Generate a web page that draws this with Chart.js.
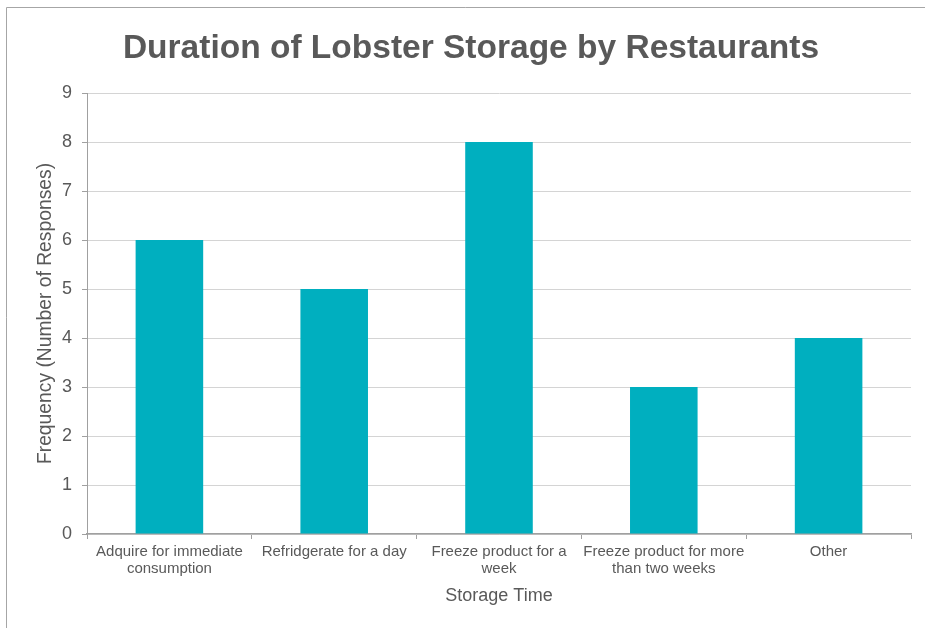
<!DOCTYPE html>
<html>
<head>
<meta charset="utf-8">
<title>Duration of Lobster Storage by Restaurants</title>
<script src="https://cdn.jsdelivr.net/npm/chart.js@4/dist/chart.umd.min.js"></script>
<style>
  html, body { margin: 0; padding: 0; background: #ffffff; }
  #wrap { position: relative; width: 925px; height: 628px; }
</style>
</head>
<body>
<div id="wrap"><canvas id="chart" width="925" height="628"></canvas></div>
<script>
// Survey responses: how long restaurants keep lobster
const categories = [
  ['Adquire for immediate', 'consumption'],
  ['Refridgerate for a day'],
  ['Freeze product for a', 'week'],
  ['Freeze product for more', 'than two weeks'],
  ['Other']
];
const responses = [6, 5, 8, 3, 4];
const yTicks = [0, 1, 2, 3, 4, 5, 6, 7, 8, 9];

const FONT = "'Liberation Sans', Arial, Helvetica, sans-serif";
const TEXT = '#595959';
const AXIS = '#a0a0a0';
const GRID = '#d4d4d4';

// thin outer frame around the whole figure
const framePlugin = {
  id: 'frame',
  beforeDraw(chart) {
    const ctx = chart.ctx;
    ctx.save();
    ctx.strokeStyle = '#a6a6a6';
    ctx.lineWidth = 1;
    ctx.beginPath();
    ctx.moveTo(6.5, chart.height);
    ctx.lineTo(6.5, 7.5);
    ctx.lineTo(chart.width, 7.5);
    ctx.stroke();
    ctx.restore();
  }
};

new Chart(document.getElementById('chart'), {
  type: 'bar',
  data: {
    labels: categories,
    datasets: [{
      data: responses,
      backgroundColor: '#00afbf',
      borderWidth: 0,
      barPercentage: 0.41,
      categoryPercentage: 1.0
    }]
  },
  options: {
    responsive: false,
    animation: false,
    devicePixelRatio: 1,
    layout: { padding: { left: 31, right: 14, top: 0, bottom: 0 } },
    plugins: {
      legend: { display: false },
      tooltip: { enabled: false },
      title: {
        display: true,
        text: 'Duration of Lobster Storage by Restaurants',
        color: TEXT,
        font: { family: FONT, size: 33.5, weight: 'bold', lineHeight: 1.2 },
        padding: { top: 29, bottom: 23.8 }
      }
    },
    scales: {
      x: {
        afterFit(scale) { scale.height = 94; },
        grid: {
          display: true,
          drawOnChartArea: false,
          drawTicks: true,
          tickLength: 5,
          tickColor: AXIS,
          offset: true
        },
        border: { display: true, color: AXIS, width: 1.5 },
        ticks: {
          color: TEXT,
          padding: 4,
          maxRotation: 0,
          autoSkip: false,
          font: { family: FONT, size: 15, lineHeight: 1.15 }
        },
        title: {
          display: true,
          text: 'Storage Time',
          color: TEXT,
          font: { family: FONT, size: 18, lineHeight: 1.2 },
          padding: { top: 4, bottom: 21 }
        }
      },
      y: {
        min: 0,
        max: 9,
        afterFit(scale) { scale.width = 56; },
        afterBuildTicks(scale) { scale.ticks = yTicks.map(v => ({ value: v })); },
        grid: {
          color: GRID,
          lineWidth: 1,
          drawTicks: true,
          tickLength: 5,
          tickColor: AXIS
        },
        border: { display: true, color: AXIS, width: 1 },
        ticks: {
          color: TEXT,
          padding: 10,
          font: { family: FONT, size: 18 }
        },
        title: {
          display: true,
          text: 'Frequency (Number of Responses)',
          color: TEXT,
          font: { family: FONT, size: 19.3, lineHeight: 1.2 },
          padding: { top: 3, bottom: 4 }
        }
      }
    }
  },
  plugins: [framePlugin]
});
</script>
</body>
</html>
